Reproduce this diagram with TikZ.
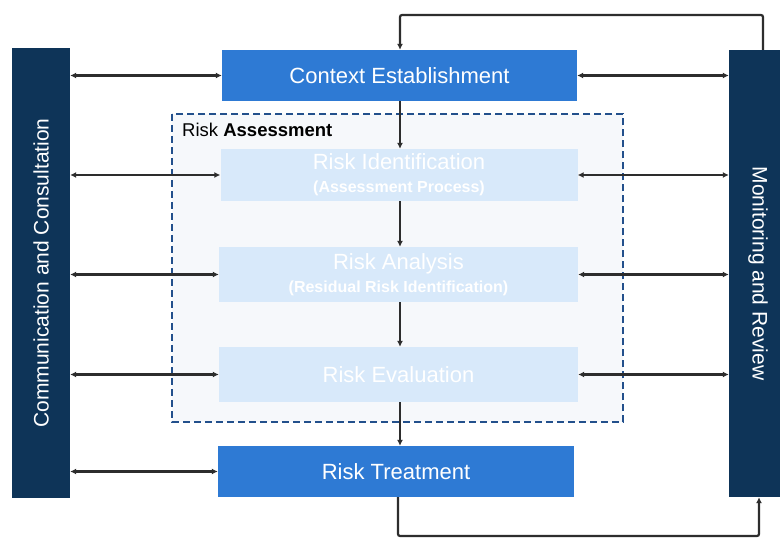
\documentclass[tikz,border=0pt]{standalone}
\usepackage{fontspec}
\setmainfont{Liberation Sans}
\usetikzlibrary{arrows.meta}
\definecolor{barcol}{RGB}{14,52,88}
\definecolor{bluebox}{RGB}{46,122,212}
\definecolor{palebox}{RGB}{216,233,250}
\definecolor{dashcol}{RGB}{35,80,140}
\definecolor{groupfill}{RGB}{246,248,251}
\definecolor{linecol}{RGB}{45,45,45}
\tikzset{
  bar/.style={draw=none, fill=barcol, text=white, inner sep=0pt, font=\fontsize{21}{24}\selectfont},
  mainbox/.style={draw=none, fill=bluebox, text=white, inner sep=0pt, align=center, font=\fontsize{22}{24}\selectfont},
  subbox/.style={draw=none, fill=palebox, text=white, inner sep=0pt, align=center, font=\fontsize{22}{24}\selectfont},
  conn/.style={draw=linecol, line width=2.2pt, -{Latex[length=6pt,width=6pt]}},
  biconn/.style={draw=linecol, line width=2.2pt, {Latex[length=6pt,width=6pt]}-{Latex[length=6pt,width=6pt]}},
  group/.style={draw=dashcol, fill=groupfill, line width=2.8pt, dash pattern=on 7pt off 4pt}
}
\begin{document}
\begin{tikzpicture}[x=1pt,y=-1pt]
\useasboundingbox[fill=white] (0,0) rectangle (780,538);
% group
\draw[group] (172,114) rectangle (623,422);
\node[anchor=west, inner sep=0pt, font=\fontsize{18.5}{20}\selectfont] (ralabel) at (182,130) {Risk \textbf{Assessment}};
% bars
\node[bar, minimum width=58pt, minimum height=450pt] (comm) at (41,273) {};
\node[rotate=90, text=white, font=\fontsize{21}{24}\selectfont] (commlabel) at (41,273) {Communication and Consultation};
\node[bar, minimum width=62pt, minimum height=447pt] (mon) at (760,273.5) {};
\node[rotate=-90, text=white, font=\fontsize{21}{24}\selectfont] (monlabel) at (758,273.5) {Monitoring and Review};
% boxes
\node[mainbox, minimum width=355pt, minimum height=51pt] (ctx) at (399.5,75.5) {Context Establishment};
\node[subbox, minimum width=357pt, minimum height=52pt] (rid) at (399,175) {Risk Identification\\[-1pt]{\fontsize{16}{18}\selectfont\bfseries (Assessment Process)}};
\node[subbox, minimum width=359pt, minimum height=55pt] (ran) at (398.5,274.5) {Risk Analysis\\[-1pt]{\fontsize{16}{18}\selectfont\bfseries (Residual Risk Identification)}};
\node[subbox, minimum width=359pt, minimum height=55pt] (rev) at (398.5,374.5) {Risk Evaluation};
\node[mainbox, minimum width=356pt, minimum height=51pt] (rtr) at (396,471.5) {Risk Treatment};
% vertical flow
\draw[conn] (ctx.south -| 400,0) -- (rid.north -| 400,0);
\draw[conn] (rid.south -| 400,0) -- (ran.north -| 400,0);
\draw[conn] (ran.south -| 400,0) -- (rev.north -| 400,0);
\draw[conn] (rev.south -| 400,0) -- (rtr.north -| 400,0);
% left links
\draw[biconn] (comm.east |- ctx.west) -- (ctx.west);
\draw[biconn] (comm.east |- rid.west) -- (rid.west);
\draw[biconn] (comm.east |- ran.west) -- (ran.west);
\draw[biconn] (comm.east |- rev.west) -- (rev.west);
\draw[biconn] (comm.east |- rtr.west) -- (rtr.west);
% right links
\draw[biconn] (ctx.east) -- (mon.west |- ctx.east);
\draw[biconn] (rid.east) -- (mon.west |- rid.east);
\draw[biconn] (ran.east) -- (mon.west |- ran.east);
\draw[biconn] (rev.east) -- (mon.west |- rev.east);
% loops
\coordinate (topr) at (763,15);
\coordinate (topl) at (400,15);
\draw[conn, rounded corners=2pt] (mon.north -| topr) -- (topr) -- (topl) -- (ctx.north -| topl);
\coordinate (botl) at (398,536);
\coordinate (botr) at (759,536);
\draw[conn, rounded corners=2pt] (rtr.south -| botl) -- (botl) -- (botr) -- (mon.south -| botr);
\end{tikzpicture}
\end{document}
